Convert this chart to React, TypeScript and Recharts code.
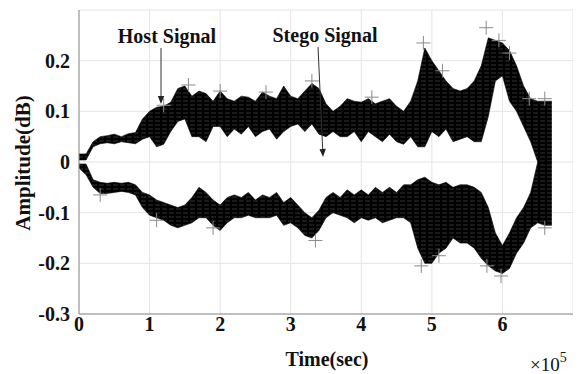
import React from 'react';
import {
  ComposedChart,
  Area,
  Scatter,
  XAxis,
  YAxis,
  CartesianGrid,
  ReferenceLine,
} from 'recharts';

// time axis, in units of 1e5 samples
const time = [
  0, 0.1, 0.2, 0.3, 0.4, 0.5, 0.6, 0.7, 0.8, 0.9,
  1.0, 1.1, 1.2, 1.3, 1.4, 1.5, 1.6, 1.7, 1.8, 1.9,
  2.0, 2.1, 2.2, 2.3, 2.4, 2.5, 2.6, 2.7, 2.8, 2.9,
  3.0, 3.1, 3.2, 3.3, 3.4, 3.5, 3.6, 3.7, 3.8, 3.9,
  4.0, 4.1, 4.2, 4.3, 4.4, 4.5, 4.6, 4.7, 4.8, 4.9,
  5.0, 5.1, 5.2, 5.3, 5.4, 5.5, 5.6, 5.7, 5.8, 5.9,
  6.0, 6.1, 6.2, 6.3, 6.4, 6.5, 6.6, 6.7,
];

// outer / inner edges of the positive band
const upperOuter = [
  0.016, 0.016, 0.04, 0.05, 0.052, 0.055, 0.05, 0.056, 0.058, 0.085,
  0.1, 0.108, 0.11, 0.118, 0.145, 0.15, 0.13, 0.14, 0.135, 0.12,
  0.14, 0.125, 0.12, 0.13, 0.128, 0.12, 0.138, 0.13, 0.125, 0.15,
  0.13, 0.125, 0.14, 0.155, 0.145, 0.115, 0.1, 0.11, 0.125, 0.12,
  0.118, 0.125, 0.115, 0.12, 0.125, 0.11, 0.1, 0.12, 0.16, 0.225,
  0.2, 0.18, 0.16, 0.145, 0.14, 0.145, 0.16, 0.19, 0.245, 0.24,
  0.235, 0.22, 0.19, 0.15, 0.125, 0.12, 0.12, 0.12,
];
const upperInner = [
  0.004, 0.004, 0.03, 0.036, 0.038, 0.036, 0.04, 0.038, 0.036, 0.045,
  0.05, 0.03, 0.035, 0.06, 0.08, 0.085, 0.05, 0.05, 0.04, 0.07,
  0.07, 0.05, 0.065, 0.055, 0.07, 0.05, 0.06, 0.065, 0.045, 0.06,
  0.07, 0.075, 0.06, 0.075, 0.055, 0.05, 0.06, 0.05, 0.05, 0.06,
  0.04, 0.06, 0.05, 0.04, 0.055, 0.04, 0.035, 0.05, 0.03, 0.03,
  0.06, 0.05, 0.065, 0.04, 0.045, 0.05, 0.04, 0.04, 0.09, 0.16,
  0.17, 0.12, 0.1, 0.07, 0.04, 0, 0, 0,
];

// inner / outer edges of the negative band
const lowerInner = [
  -0.004, -0.004, -0.035, -0.04, -0.042, -0.04, -0.042, -0.04, -0.045, -0.06,
  -0.065, -0.075, -0.08, -0.085, -0.09, -0.085, -0.07, -0.05, -0.06, -0.075,
  -0.085, -0.07, -0.065, -0.07, -0.06, -0.075, -0.065, -0.07, -0.06, -0.08,
  -0.07, -0.085, -0.1, -0.11, -0.095, -0.07, -0.06, -0.07, -0.055, -0.065,
  -0.055, -0.065, -0.05, -0.06, -0.05, -0.06, -0.045, -0.045, -0.035, -0.03,
  -0.04, -0.045, -0.04, -0.05, -0.045, -0.045, -0.05, -0.06, -0.09, -0.14,
  -0.165, -0.14, -0.11, -0.09, -0.06, 0, 0, 0,
];
const lowerOuter = [
  -0.012, -0.025, -0.05, -0.062, -0.062, -0.06, -0.058, -0.06, -0.065, -0.09,
  -0.105, -0.11, -0.115, -0.125, -0.13, -0.125, -0.12, -0.11, -0.11, -0.125,
  -0.135, -0.12, -0.11, -0.11, -0.105, -0.11, -0.11, -0.11, -0.105, -0.125,
  -0.12, -0.13, -0.145, -0.15, -0.135, -0.11, -0.1, -0.105, -0.11, -0.12,
  -0.11, -0.115, -0.11, -0.12, -0.115, -0.11, -0.11, -0.12, -0.17, -0.2,
  -0.2, -0.18, -0.17, -0.15, -0.16, -0.16, -0.17, -0.19, -0.205, -0.215,
  -0.22, -0.21, -0.18, -0.16, -0.13, -0.12, -0.125, -0.125,
];

// gray '+' markers sitting on the peaks
const markerT = [1.2, 1.55, 2.0, 2.65, 3.3, 4.15, 4.88, 5.15, 5.77, 5.95, 6.1, 6.38, 6.6,
  0.3, 1.1, 1.9, 3.35, 4.85, 5.1, 5.78, 5.98, 6.6];
const markerA = [0.112, 0.152, 0.14, 0.138, 0.16, 0.128, 0.235, 0.18, 0.265, 0.24, 0.215, 0.125, 0.125,
  -0.065, -0.115, -0.13, -0.155, -0.205, -0.185, -0.205, -0.225, -0.13];

const xTicks = [0, 1, 2, 3, 4, 5, 6];
const yTicks = [-0.3, -0.2, -0.1, 0, 0.1, 0.2];

const data = time.map((t, i) => ({
  t,
  upper: [upperInner[i], upperOuter[i]],
  lower: [lowerOuter[i], lowerInner[i]],
}));
const markers = markerT.map((t, i) => ({ t, a: markerA[i] }));

const font = '"Liberation Serif", "Times New Roman", serif';
const textStyle = { fontFamily: font, fontWeight: 700, fontSize: 20, fill: '#111' };

const makeArrow = (text: string, dx: number) => (props: any) => {
  const { x1, y1, x2, y2 } = props;
  const ang = Math.atan2(y2 - y1, x2 - x1);
  const len = 8;
  const w = 3.2;
  const bx = x2 - len * Math.cos(ang);
  const by = y2 - len * Math.sin(ang);
  const px = -Math.sin(ang) * w;
  const py = Math.cos(ang) * w;
  return (
    <g>
      <line x1={x1} y1={y1} x2={bx} y2={by} stroke="#333" strokeWidth={1} />
      <polygon points={`${x2},${y2} ${bx + px},${by + py} ${bx - px},${by - py}`} fill="#222" />
      <text x={x1 + dx} y={y1 - 5} textAnchor="middle" style={textStyle}>{text}</text>
    </g>
  );
};

const XTick = (props: any) => {
  const { x, y, payload } = props;
  return (
    <text x={x} y={y + 17} textAnchor="middle" style={textStyle}>{payload.value}</text>
  );
};

const YTick = (props: any) => {
  const { x, y, payload } = props;
  const v = payload.value;
  return (
    <text x={x} y={y + 7} textAnchor="end" style={textStyle}>{v === 0 ? '0' : v.toFixed(1)}</text>
  );
};

const PlusMark = (props: any) => {
  const { cx, cy } = props;
  return (
    <g stroke="#8a8a8a" strokeWidth={1}>
      <line x1={cx - 7} y1={cy} x2={cx + 7} y2={cy} />
      <line x1={cx} y1={cy - 7} x2={cx} y2={cy + 7} />
    </g>
  );
};

export default function App() {
  return (
    <div style={{ fontFamily: font }}>
      <ComposedChart
        width={573}
        height={366}
        data={data}
        margin={{ top: 2, right: 8, bottom: 0, left: 11 }}
      >
        <defs>
          <pattern id="sig" width="7" height="4" patternUnits="userSpaceOnUse">
            <rect width="7" height="4" fill="#000" />
            <line x1="0" y1="1" x2="5" y2="1" stroke="#4a4a4a" strokeWidth="0.7" />
          </pattern>
        </defs>
        <CartesianGrid stroke="#e4e4e4" />
        <XAxis
          dataKey="t"
          type="number"
          domain={[0, 7]}
          ticks={xTicks}
          height={60}
          tickLine={false}
          tickSize={0}
          tickMargin={0}
          stroke="#8c8c8c"
          tick={<XTick />}
          label={{
            content: () => (
              <g>
                <text x={319} y={358} textAnchor="middle" style={textStyle}>Time(sec)</text>
                <text x={522} y={363} style={{ ...textStyle, fontSize: 19, fontWeight: 400 }}>
                  ×10<tspan dy={-9} fontSize={14}>5</tspan>
                </text>
              </g>
            ),
          }}
        />
        <XAxis xAxisId="top" orientation="top" type="number" domain={[0, 7]} height={0} tick={false} tickLine={false} stroke="#8c8c8c" />
        <YAxis
          type="number"
          domain={[-0.3, 0.3]}
          ticks={yTicks}
          width={60}
          tickLine={false}
          tickSize={0}
          tickMargin={9}
          stroke="#8c8c8c"
          tick={<YTick />}
          label={{
            content: () => (
              <text
                x={22}
                y={155}
                transform="rotate(-90 22 155)"
                textAnchor="middle"
                style={{ ...textStyle, fontSize: 21 }}
              >
                Amplitude(dB)
              </text>
            ),
          }}
        />
        <YAxis yAxisId="right" orientation="right" type="number" domain={[-0.3, 0.3]} width={0} tick={false} tickLine={false} stroke="#8c8c8c" />
        <Area type="linear" dataKey="upper" stroke="#000" strokeWidth={0.6} fill="url(#sig)" fillOpacity={1} isAnimationActive={false} />
        <Area type="linear" dataKey="lower" stroke="#000" strokeWidth={0.6} fill="url(#sig)" fillOpacity={1} isAnimationActive={false} />
        <Scatter data={markers} dataKey="a" shape={PlusMark} isAnimationActive={false} />
        <ReferenceLine
          segment={[{ x: 1.162, y: 0.225 }, { x: 1.162, y: 0.1145 }]}
          shape={makeArrow('Host Signal', 6)}
        />
        <ReferenceLine
          segment={[{ x: 3.387, y: 0.227 }, { x: 3.458, y: 0.0099 }]}
          shape={makeArrow('Stego Signal', 7)}
        />
      </ComposedChart>
    </div>
  );
}
